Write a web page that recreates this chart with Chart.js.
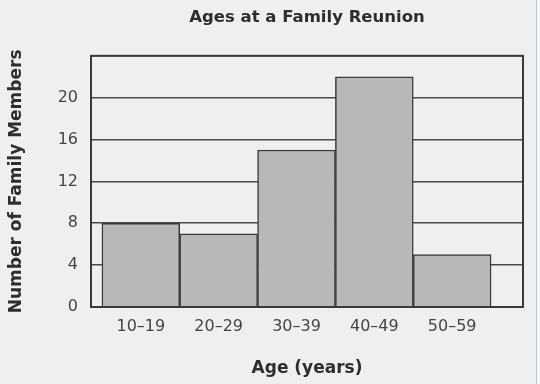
<!DOCTYPE html>
<html>
<head>
<meta charset="utf-8">
<script src="https://cdn.jsdelivr.net/npm/chart.js@4/dist/chart.umd.min.js"></script>
<style>
  html, body { margin: 0; padding: 0; background: #efefef; }
  #wrap { position: relative; width: 540px; height: 384px; }
  #edge { position: absolute; left: 536px; top: 0; width: 1px; height: 384px; background: #a9c9ea; }
  #after { position: absolute; left: 537px; top: 0; width: 3px; height: 384px; background: #f7f7f7; }
</style>
</head>
<body>
<div id="wrap">
  <canvas id="c" width="540" height="384"></canvas>
  <div id="edge"></div>
  <div id="after"></div>
</div>
<script>
// Age groups and how many family members fall in each
const ageGroups = ['10–19', '20–29', '30–39', '40–49', '50–59'];
const memberCounts = [8, 7, 15, 22, 5];
const yTicks = [0, 4, 8, 12, 16, 20, 24];

const INK = '#3a3a3a';
const FONT = "'DejaVu Sans', sans-serif";

// Outline around the whole plot area
const frame = {
  id: 'frame',
  afterDatasetsDraw(chart) {
    const { ctx, chartArea: a } = chart;
    ctx.save();
    ctx.strokeStyle = INK;
    ctx.lineWidth = 2;
    ctx.strokeRect(a.left, a.top, a.right - a.left, a.bottom - a.top);
    ctx.restore();
  }
};

new Chart(document.getElementById('c'), {
  type: 'bar',
  data: {
    datasets: [{
      data: memberCounts.map((v, i) => ({ x: i, y: v })),
      backgroundColor: '#b8b8b8',
      borderColor: INK,
      borderWidth: 1.5,
      barPercentage: 1,
      categoryPercentage: 1
    }]
  },
  options: {
    responsive: false,
    animation: false,
    layout: { padding: { left: 0, right: 17, top: 0, bottom: 0 } },
    plugins: {
      legend: { display: false },
      tooltip: { enabled: false },
      title: {
        display: true,
        fullSize: false,
        text: 'Ages at a Family Reunion',
        color: '#2e2e2e',
        font: { family: FONT, size: 16.5, weight: 'bold' },
        padding: { top: 8, bottom: 28 }
      }
    },
    scales: {
      x: {
        type: 'linear',
        offset: false,
        min: -0.64,
        max: 4.91,
        afterBuildTicks(axis) {
          axis.ticks = ageGroups.map((_, i) => ({ value: i }));
        },
        afterFit(scale) { scale.height = 77; },
        grid: { display: false, drawTicks: false, offset: false },
        border: { display: false },
        ticks: {
          autoSkip: false,
          maxRotation: 0,
          padding: 10,
          color: '#454545',
          font: { family: FONT, size: 16 },
          callback: (v) => ageGroups[v] ?? ''
        },
        title: {
          display: true,
          text: 'Age (years)',
          color: '#2e2e2e',
          font: { family: FONT, size: 17, weight: 'bold' },
          padding: { top: 0, bottom: 5 }
        }
      },
      y: {
        min: 0,
        max: 24,
        afterBuildTicks(axis) {
          axis.ticks = yTicks.map(v => ({ value: v }));
        },
        afterFit(scale) { scale.width = 91; },
        grid: { color: '#4a4a4a', lineWidth: 1.6, drawTicks: false },
        border: { display: false },
        ticks: {
          padding: 13,
          color: '#454545',
          font: { family: FONT, size: 16 },
          callback: (v) => (v === 24 ? '' : v)
        },
        title: {
          display: true,
          text: 'Number of Family Members',
          color: '#2e2e2e',
          font: { family: FONT, size: 17, weight: 'bold' },
          padding: { top: 6, bottom: 0 }
        }
      }
    }
  },
  plugins: [frame]
});
</script>
</body>
</html>
